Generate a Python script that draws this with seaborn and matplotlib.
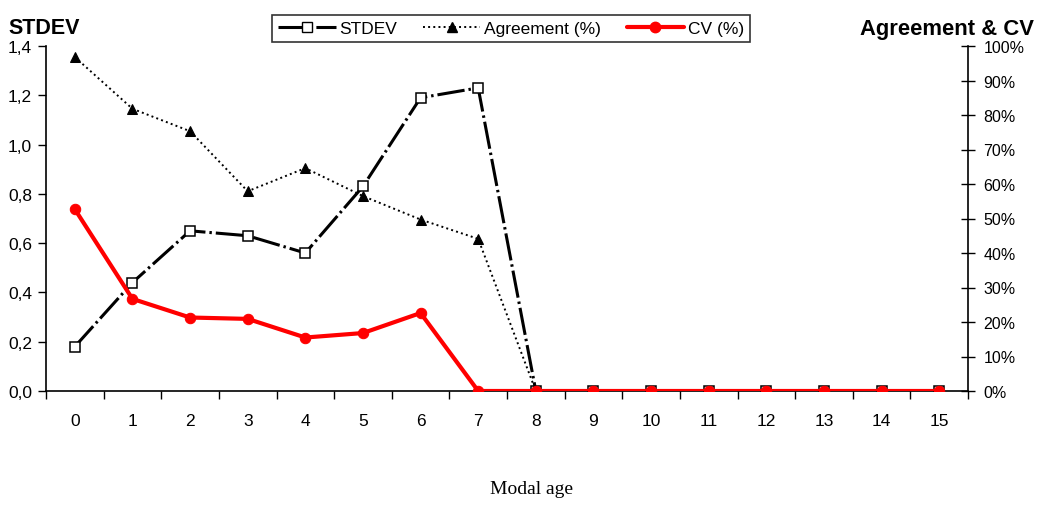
import matplotlib
matplotlib.use("Agg")
import matplotlib.pyplot as plt
from matplotlib.lines import Line2D
from matplotlib.ticker import FixedLocator, FuncFormatter
import numpy as np
import pandas as pd
import seaborn as sns

# Data
modal_age = list(range(16))
stdev = [0.18, 0.44, 0.65, 0.63, 0.56, 0.83, 1.19, 1.23, 0, 0, 0, 0, 0, 0, 0, 0]
agreement = [96.8, 81.8, 75.3, 57.9, 64.6, 56.5, 49.7, 44.1, 0, 0, 0, 0, 0, 0, 0, 0]
cv = [52.7, 26.7, 21.3, 20.9, 15.5, 16.8, 22.6, 0, 0, 0, 0, 0, 0, 0, 0, 0]
left_ticks = [0.0, 0.2, 0.4, 0.6, 0.8, 1.0, 1.2, 1.4]
right_ticks = [0, 10, 20, 30, 40, 50, 60, 70, 80, 90, 100]

df = pd.DataFrame({"age": modal_age, "stdev": stdev,
                   "agreement": agreement, "cv": cv})

sns.set_theme(style="white")
plt.rcParams["font.family"] = ["Liberation Sans", "DejaVu Sans"]
plt.rcParams["text.color"] = "black"

W, H = 1037, 506
fig = plt.figure(figsize=(W / 100, H / 100), dpi=100)
ax = fig.add_axes([46 / W, 1 - 392 / H, (968 - 46) / W, (392 - 47) / H])
ax2 = ax.twinx()

STDEV_DASH = [9, 1.3, 0.8, 1.3]

# STDEV on the left axis
sns.lineplot(data=df, x="age", y="stdev", ax=ax, color="black", linewidth=2.2,
             marker="s", markersize=6.5, markerfacecolor="white",
             markeredgecolor="black", markeredgewidth=1.1, zorder=3)
ax.lines[-1].set_dashes(STDEV_DASH)

# Agreement and CV on the right axis
sns.lineplot(data=df, x="age", y="agreement", ax=ax2, color="black", linewidth=1.4,
             marker="^", markersize=7.5, markerfacecolor="black",
             markeredgecolor="black", zorder=3)
ax2.lines[-1].set_linestyle(":")
sns.lineplot(data=df, x="age", y="cv", ax=ax2, color="#ff0000", linewidth=3,
             marker="o", markersize=7.5, markerfacecolor="#ff0000",
             markeredgecolor="#ff0000", zorder=4)

ax.set_xlim(-0.5, 15.5)
ax.set_ylim(0, 1.4)
ax2.set_ylim(0, 100)

# Axis styling
for a in (ax, ax2):
    for s in a.spines.values():
        s.set_visible(False)
    a.grid(False)
ax.spines["left"].set_visible(True)
ax.spines["bottom"].set_visible(True)
ax2.spines["right"].set_visible(True)
for s in (ax.spines["left"], ax.spines["bottom"], ax2.spines["right"]):
    s.set_color("black")
    s.set_linewidth(1.2)

ax.set_yticks(left_ticks)
ax.yaxis.set_major_formatter(FuncFormatter(lambda v, p: f"{v:.1f}".replace(".", ",")))
ax.tick_params(axis="y", which="major", direction="out", length=6, width=1,
               color="black", labelsize=12.5, pad=4, left=True, labelcolor="black")

ax.set_xticks(modal_age)
ax.set_xticklabels([str(v) for v in modal_age])
ax.xaxis.set_minor_locator(FixedLocator(np.arange(-0.5, 16, 1)))
ax.tick_params(axis="x", which="major", length=0, labelsize=12.5, pad=16,
               labelcolor="black")
ax.tick_params(axis="x", which="minor", direction="out", length=6, width=1,
               color="black", bottom=True)

ax2.set_yticks(right_ticks)
ax2.yaxis.set_major_formatter(FuncFormatter(lambda v, p: f"{int(v)}%"))
ax2.tick_params(axis="y", which="major", direction="inout", length=10, width=1,
                color="black", labelsize=11.5, pad=6, right=True, labelcolor="black")

ax.set_xlabel("")
ax.set_ylabel("")
ax2.set_ylabel("")

# Axis titles and x label
fig.text(8 / W, 1 - 29 / H, "STDEV", fontsize=15.5, fontweight="bold",
         va="center", ha="left")
fig.text(1034 / W, 1 - 29 / H, "Agreement & CV", fontsize=15.8, fontweight="bold",
         va="center", ha="right")
fig.text(531 / W, 1 - 490 / H, "Modal age", fontsize=14,
         family=["Liberation Serif", "DejaVu Serif"], va="center", ha="center")

# Legend
handles = [
    Line2D([], [], color="black", linewidth=2.2, dashes=STDEV_DASH,
           marker="s", markersize=6.5, markerfacecolor="white",
           markeredgecolor="black"),
    Line2D([], [], color="black", linewidth=1.4, linestyle=":", marker="^",
           markersize=7.5, markerfacecolor="black"),
    Line2D([], [], color="#ff0000", linewidth=3, marker="o", markersize=7.5,
           markerfacecolor="#ff0000", markeredgecolor="#ff0000"),
]
leg = fig.legend(handles, ["STDEV", "Agreement (%)", "CV (%)"], ncol=3,
                 loc="upper center", bbox_to_anchor=(511 / W, 1 - 7 / H),
                 frameon=True, fancybox=False, edgecolor="black", fontsize=12.5,
                 handlelength=3.3, columnspacing=1.5, handletextpad=0.2,
                 borderpad=0.35)
leg.get_frame().set_linewidth(1.2)

fig.savefig("out.png", dpi=100, facecolor="white")
